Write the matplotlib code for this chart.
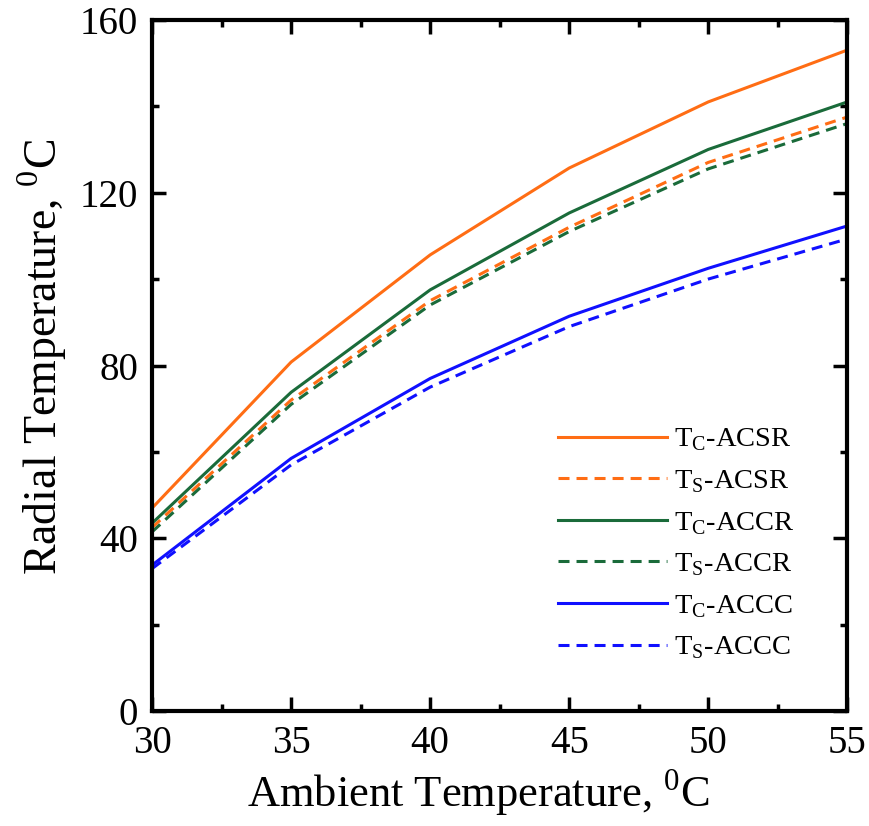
import matplotlib
matplotlib.use("Agg")
import matplotlib.pyplot as plt
from matplotlib.ticker import MultipleLocator

ambient = [30, 35, 40, 45, 50, 55]
tc_acsr = [47, 80.8, 105.6, 125.7, 141, 153]
ts_acsr = [42.5, 72, 95, 112, 127, 137.5]
tc_accr = [43.5, 73.8, 97.5, 115.3, 130, 141]
ts_accr = [41.5, 71, 94, 111, 125.5, 136]
tc_accc = [33.8, 58.5, 77, 91.4, 102.5, 112.3]
ts_accc = [33, 57, 75, 89, 100, 109.3]

labels = ["T$_\\mathregular{C}$-ACSR", "T$_\\mathregular{S}$-ACSR",
          "T$_\\mathregular{C}$-ACCR", "T$_\\mathregular{S}$-ACCR",
          "T$_\\mathregular{C}$-ACCC", "T$_\\mathregular{S}$-ACCC"]

plt.rcParams['font.family'] = ['Liberation Serif', 'DejaVu Serif']
plt.rcParams['mathtext.fontset'] = 'dejavusans'

fig = plt.figure(figsize=(8.69, 8.26), dpi=100)
ax = fig.add_axes([0.175, 0.139, 0.800, 0.837])

orange = '#ff6d14'
green = '#1a6b3a'
blue = '#1010ff'
lw = 2.2
dash = (0, (3.6, 2.3))
ax.plot(ambient, tc_acsr, color=orange, lw=lw, label=labels[0])
ax.plot(ambient, ts_acsr, color=orange, lw=lw, ls=dash, label=labels[1])
ax.plot(ambient, tc_accr, color=green, lw=lw, label=labels[2])
ax.plot(ambient, ts_accr, color=green, lw=lw, ls=dash, label=labels[3])
ax.plot(ambient, tc_accc, color=blue, lw=lw, label=labels[4])
ax.plot(ambient, ts_accc, color=blue, lw=lw, ls=dash, label=labels[5])

ax.set_xlim(30, 55)
ax.set_ylim(0, 160)
ax.xaxis.set_major_locator(MultipleLocator(5))
ax.xaxis.set_minor_locator(MultipleLocator(2.5))
ax.yaxis.set_major_locator(MultipleLocator(40))
ax.yaxis.set_minor_locator(MultipleLocator(20))
ax.tick_params(which='both', direction='in', top=True, right=True, width=2.5)
ax.tick_params(which='major', length=10, labelsize=28)
ax.tick_params(axis='x', which='major', pad=10)
ax.tick_params(axis='y', which='major', pad=10)
ax.tick_params(which='minor', length=5)
for s in ax.spines.values():
    s.set_linewidth(3)

ax.set_xlabel("Ambient Temperature, $^\\mathregular{0}$C", fontsize=32, labelpad=4)
ax.set_ylabel("Radial Temperature, $^\\mathregular{0}$C", fontsize=33, labelpad=8)
ax.xaxis.label.set_x(0.47)
ax.yaxis.label.set_y(0.512)

leg = ax.legend(loc='lower right', bbox_to_anchor=(0.961, 0.035), frameon=False,
                fontsize=20.5, handlelength=3.8, labelspacing=0.52, handletextpad=0.25)

fig.savefig("out.png", dpi=100)
